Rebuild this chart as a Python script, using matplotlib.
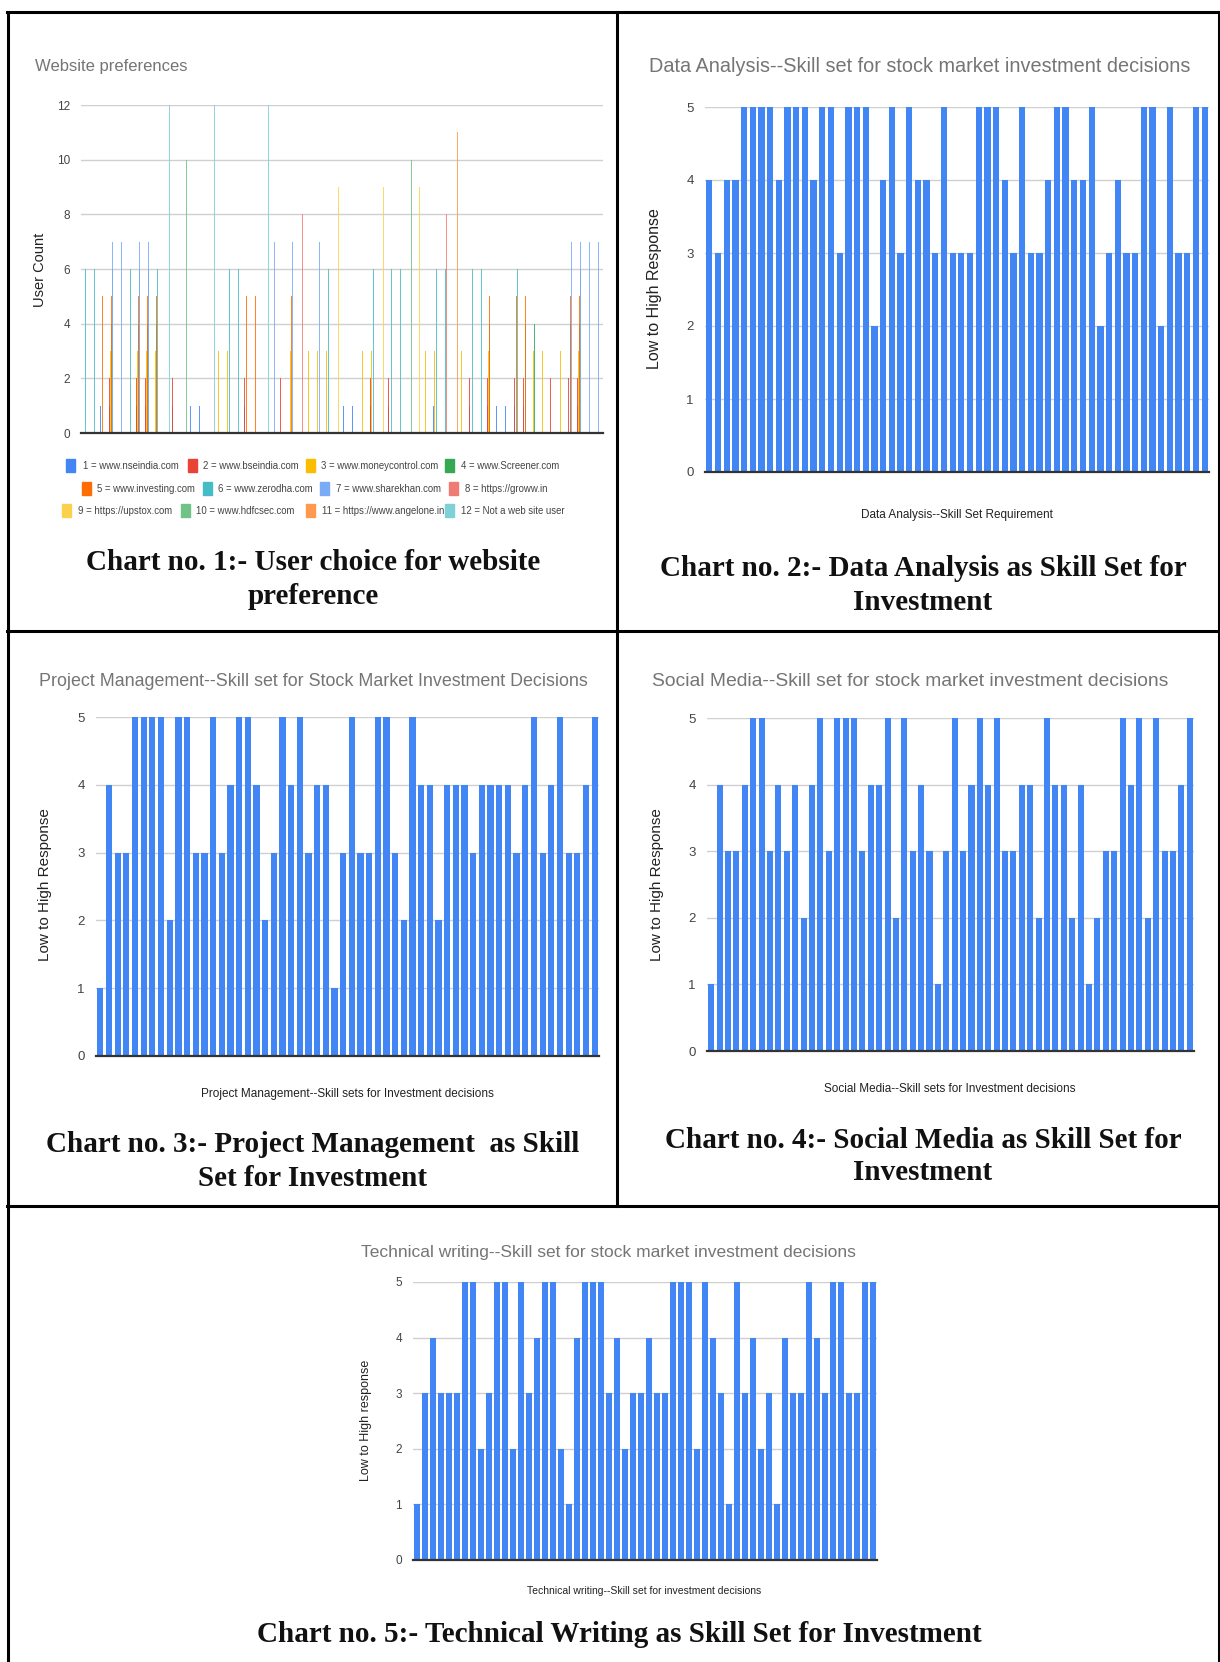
import matplotlib
matplotlib.use("Agg")
import matplotlib.pyplot as plt
from matplotlib.lines import Line2D
from matplotlib.patches import Rectangle

W, H = 1220, 1662

# chart 1: website codes chosen by each respondent (bar height = code)
web_labels = ["1 = www.nseindia.com", "2 = www.bseindia.com", "3 = www.moneycontrol.com",
              "4 = www.Screener.com", "5 = www.investing.com", "6 = www.zerodha.com",
              "7 = www.sharekhan.com", "8 = https://groww.in", "9 = https://upstox.com",
              "10 = www.hdfcsec.com", "11 = https://www.angelone.in", "12 = Not a web site user"]
web_colors = ["#4285F4", "#EA4335", "#FBBC04", "#34A853", "#FF6D01", "#46BDC6",
              "#7BAAF7", "#F07B72", "#FCD04F", "#71C287", "#FF994D", "#7ED1D7"]
web_choices = [[6], [6], [1, 5], [1, 2, 3, 4, 5, 6, 7], [7], [6],
               [1, 2, 3, 4, 5, 6, 7], [1, 2, 3, 4, 5, 6, 7], [3, 4, 5, 6], [12],
               [1, 2], [10], [1], [1], [12], [3], [3, 6], [6], [1, 2, 5], [5],
               [12], [7], [2], [3, 5, 7], [8], [3], [3, 7], [3, 6], [9], [1],
               [1], [3], [1, 2, 3, 6], [9], [1, 2, 6], [6], [10], [9], [3], [1, 3, 6],
               [6, 8], [11], [3], [1, 2, 6], [6], [1, 2, 3, 4, 5], [1], [1], [1, 2, 5, 6], [1, 2, 4, 5],
               [3, 4], [3], [2], [3], [2, 4, 5, 7], [1, 2, 3, 4, 5, 6, 7], [7], [7]]

# skill ratings (one bar per respondent)
data_analysis = [4, 3, 4, 4, 5, 5, 5, 5, 4, 5, 5, 5, 4, 5, 5, 3, 5, 5, 5, 2, 4, 5, 3, 5, 4, 4, 3, 5, 3,
                 3, 3, 5, 5, 5, 4, 3, 5, 3, 3, 4, 5, 5, 4, 4, 5, 2, 3, 4, 3, 3, 5, 5, 2, 5, 3, 3, 5, 5]
project_mgmt = [1, 4, 3, 3, 5, 5, 5, 5, 2, 5, 5, 3, 3, 5, 3, 4, 5, 5, 4, 2, 3, 5, 4, 5, 3, 4, 4, 1, 3,
                5, 3, 3, 5, 5, 3, 2, 5, 4, 4, 2, 4, 4, 4, 3, 4, 4, 4, 4, 3, 4, 5, 3, 4, 5, 3, 3, 4, 5]
social_media = [1, 4, 3, 3, 4, 5, 5, 3, 4, 3, 4, 2, 4, 5, 3, 5, 5, 5, 3, 4, 4, 5, 2, 5, 3, 4, 3, 1, 3,
                5, 3, 4, 5, 4, 5, 3, 3, 4, 4, 2, 5, 4, 4, 2, 4, 1, 2, 3, 3, 5, 4, 5, 2, 5, 3, 3, 4, 5]
tech_writing = [1, 3, 4, 3, 3, 3, 5, 5, 2, 3, 5, 5, 2, 5, 3, 4, 5, 5, 2, 1, 4, 5, 5, 5, 3, 4, 2, 3, 3,
                4, 3, 3, 5, 5, 5, 2, 5, 4, 3, 1, 5, 3, 4, 2, 3, 1, 4, 3, 3, 5, 4, 3, 5, 5, 3, 3, 5, 5]

SANS = "Liberation Sans"
SERIF = "Liberation Serif"
GRAY_T = "#757575"

fig = plt.figure(figsize=(W / 100, H / 100), dpi=100)


def px_axes(x0, y0, x1, y1):
    return fig.add_axes([x0 / W, 1 - y1 / H, (x1 - x0) / W, (y1 - y0) / H])


def ftext(x, y, s, **kw):
    kw.setdefault("family", SANS)
    fig.text(x / W, 1 - y / H, s, **kw)


def style_axes(ax, ymax, step, ticksize):
    ax.set_ylim(0, ymax)
    ax.set_yticks(range(0, ymax + 1, step))
    ax.grid(axis="y", color="#d0d0d0", lw=1.0)
    ax.set_axisbelow(True)
    for s in ["top", "right", "left"]:
        ax.spines[s].set_visible(False)
    ax.spines["bottom"].set_color("#333333")
    ax.spines["bottom"].set_linewidth(1.6)
    ax.set_xticks([])
    ax.tick_params(axis="y", length=0, pad=8, labelsize=ticksize, labelcolor="#444444")
    for t in ax.get_yticklabels():
        t.set_family(SANS)


def skill_chart(box, vals, ticksize=9.5):
    ax = px_axes(*box)
    ax.bar(range(len(vals)), vals, width=0.72, color="#4285F4")
    ax.set_xlim(-0.5, len(vals) - 0.5)
    style_axes(ax, 5, 1, ticksize)
    return ax


# ---- chart 1
ax1 = px_axes(81, 105, 603, 433)
for k, codes in enumerate(web_choices):
    for c in codes:
        ax1.bar(k + (c - 6.5) * 0.066, c, width=0.11, color=web_colors[c - 1], alpha=0.85)
ax1.set_xlim(-0.5, len(web_choices) - 0.5)
style_axes(ax1, 12, 2, 8.5)
ftext(35, 66, "Website preferences", fontsize=12, color=GRAY_T, va="center")
ftext(40, 270, "User Count", fontsize=10.5, color="#222222", rotation=90, ha="center", va="center")

leg_rows = [[(70, 83), (192, 203), (310, 321), (449, 461)],
            [(86, 97), (207, 218), (324, 336), (453, 465)],
            [(66, 78), (185, 196), (310, 322), (449, 461)]]
leg_y = [466, 489, 511]
for r, row in enumerate(leg_rows):
    for j, (sx, tx) in enumerate(row):
        i = r * 4 + j
        fig.add_artist(Rectangle((sx / W - 4 / W, 1 - (leg_y[r] + 6) / H), 9 / W, 13 / H,
                                 transform=fig.transFigure, color=web_colors[i]))
        ftext(tx, leg_y[r], web_labels[i], fontsize=6.9, color="#444444", va="center")

cap = dict(family=SERIF, fontsize=21, fontweight="bold", ha="center", va="center", color="#111111")
ftext(313, 562, "Chart no. 1:- User choice for website", **cap)
ftext(313, 596, "preference", **cap)

# ---- chart 2
skill_chart((705, 107, 1209, 472), data_analysis)
ftext(649, 67, "Data Analysis--Skill set for stock market investment decisions",
      fontsize=14.3, color=GRAY_T, va="center")
ftext(654, 289, "Low to High Response", fontsize=11.5, color="#222222", rotation=90, ha="center", va="center")
ftext(957, 515, "Data Analysis--Skill Set Requirement", fontsize=8.5,
      color="#222222", ha="center", va="center")
ftext(923, 568, "Chart no. 2:- Data Analysis as Skill Set for", **cap)
ftext(923, 602, "Investment", **cap)

# ---- chart 3
skill_chart((96, 717, 599, 1056), project_mgmt)
ftext(39, 682, "Project Management--Skill set for Stock Market Investment Decisions",
      fontsize=12.9, color=GRAY_T, va="center")
ftext(45, 885, "Low to High Response", fontsize=11, color="#222222", rotation=90, ha="center", va="center")
ftext(347, 1094, "Project Management--Skill sets for Investment decisions",
      fontsize=8.5, color="#222222", ha="center", va="center")
ftext(313, 1145, "Chart no. 3:- Project Management  as Skill", **cap)
ftext(313, 1179, "Set for Investment", **cap)

# ---- chart 4
skill_chart((707, 718, 1194, 1051), social_media)
ftext(652, 682, "Social Media--Skill set for stock market investment decisions",
      fontsize=13.9, color=GRAY_T, va="center")
ftext(657, 885, "Low to High Response", fontsize=11, color="#222222", rotation=90, ha="center", va="center")
ftext(950, 1089, "Social Media--Skill sets for Investment decisions",
      fontsize=8.5, color="#222222", ha="center", va="center")
ftext(923, 1140, "Chart no. 4:- Social Media as Skill Set for", **cap)
ftext(923, 1173, "Investment", **cap)

# ---- chart 5
skill_chart((413, 1282, 877, 1560), tech_writing, ticksize=8.5)
ftext(361, 1253, "Technical writing--Skill set for stock market investment decisions",
      fontsize=12.5, color=GRAY_T, va="center")
ftext(366, 1420, "Low to High response", fontsize=9, color="#222222", rotation=90, ha="center", va="center")
ftext(644, 1591, "Technical writing--Skill set for investment decisions",
      fontsize=7.5, color="#222222", ha="center", va="center")
ftext(619, 1635, "Chart no. 5:- Technical Writing as Skill Set for Investment", **cap)

# table borders
def hline(y, x0=7, x1=W):
    fig.add_artist(Line2D([x0 / W, x1 / W], [1 - y / H, 1 - y / H], color="black", lw=2.2))


def vline(x, y0, y1):
    fig.add_artist(Line2D([x / W, x / W], [1 - y0 / H, 1 - y1 / H], color="black", lw=2.2))


hline(12)
hline(631)
hline(1206)
vline(8, 12, H)
vline(617, 12, 1206)
vline(1219, 12, H)

fig.savefig("out.png", dpi=100, facecolor="white")
